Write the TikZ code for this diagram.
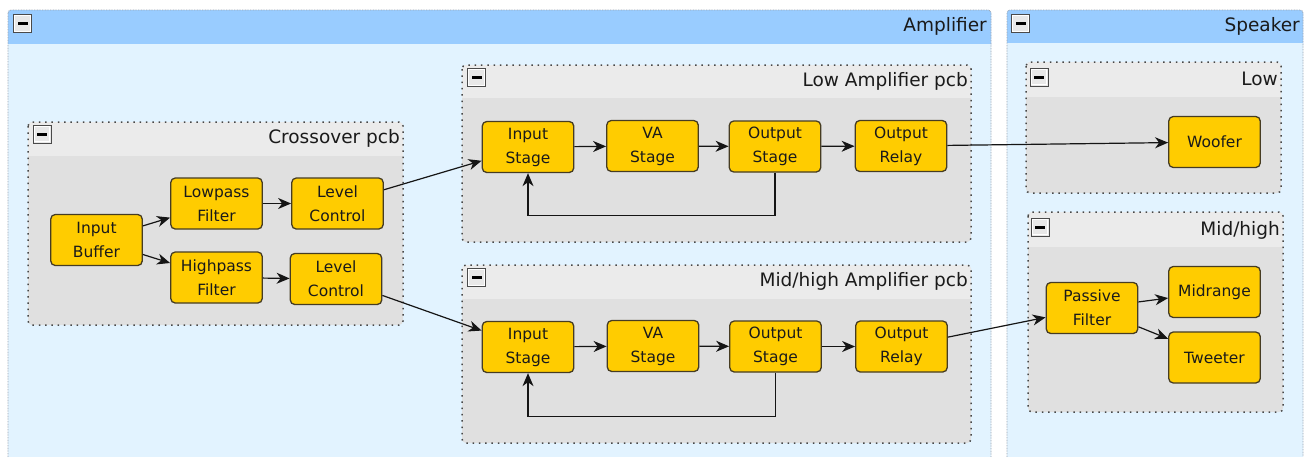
\documentclass[tikz,border=0pt]{standalone}
\usepackage{fontspec}
\setmainfont{DejaVu Sans}
\usetikzlibrary{arrows.meta}
\definecolor{outerHead}{HTML}{99CCFF}
\definecolor{outerBody}{HTML}{E2F3FF}
\definecolor{outerLine}{HTML}{9AA6B4}
\definecolor{grpHead}{HTML}{EBEBEB}
\definecolor{grpBody}{HTML}{E0E0E0}
\definecolor{grpLine}{HTML}{484848}
\definecolor{nodeFill}{HTML}{FFCC00}
\definecolor{nodeLine}{HTML}{463C22}
\definecolor{edgeCol}{HTML}{151515}
\definecolor{txtCol}{HTML}{1A1A1A}
\definecolor{btnFill}{HTML}{E8E8E8}
\definecolor{btnLine}{HTML}{4A4A4A}
\newcommand{\outerbox}[5]{% x1 y1 x2 y2 headerbottom
  \fill[outerBody,rounded corners=3pt] (#1,#2) rectangle (#3,#4);
  \fill[outerHead,rounded corners=3pt] (#1,#2) rectangle (#3,#5+4);
  \fill[outerBody] (#1,#5) rectangle (#3,#5+5);
  \draw[outerbord,rounded corners=3pt] (#1,#2) rectangle (#3,#4);
}
\newcommand{\pcbgroup}[5]{% x1 y1 x2 y2 headerbottom
  \fill[grpBody,rounded corners=4pt] (#1,#2) rectangle (#3,#4);
  \fill[grpHead,rounded corners=4pt] (#1,#2) rectangle (#3,#5+5);
  \fill[grpBody] (#1,#5) rectangle (#3,#5+6);
  \draw[grpbord,rounded corners=4pt] (#1,#2) rectangle (#3,#4);
}
\begin{document}
\begin{tikzpicture}[x=1pt,y=-1pt,
  outerbord/.style={draw=outerLine,line width=0.8pt,dash pattern=on 0.8pt off 0.8pt},
  grpbord/.style={draw=grpLine,line width=1.5pt,dash pattern=on 1.5pt off 4.8pt},
  block/.style={rectangle,rounded corners=4.5pt,fill=nodeFill,draw=nodeLine,line width=1.3pt,
    minimum width=91.5pt,minimum height=51pt,inner sep=0pt,align=center,text=txtCol,
    font=\fontsize{15.5}{24}\selectfont},
  titletxt/.style={anchor=base east,inner sep=0pt,text=txtCol,font=\fontsize{18.5}{22}\selectfont},
  btn/.style={rectangle,draw=btnLine,fill=btnFill,line width=1pt,minimum size=18pt,inner sep=0pt,
    path picture={\fill[black] ([xshift=-5pt,yshift=-1.5pt]path picture bounding box.center) rectangle ++(10pt,3pt);
      \draw[white,line width=0.8pt] ([xshift=1.2pt,yshift=1.2pt]path picture bounding box.south west) rectangle ([xshift=-1.2pt,yshift=-1.2pt]path picture bounding box.north east);}},
  edge/.style={draw=edgeCol,line width=1.2pt,-{Stealth[length=13pt,width=11pt,inset=4pt]}}
]
\useasboundingbox (0,0) rectangle (1307,456);
\clip (0,0) rectangle (1307,456);
\fill[white] (0,0) rectangle (1307,456);

% outer containers
\outerbox{8}{10}{991}{480}{44}
\outerbox{1007}{10}{1303}{480}{43}
\node[btn] (bAmp) at (22.5,23.5) {};
\node[titletxt] (tAmp) at (987,31) {Amplifier};
\node[btn] (bSpk) at (1020.5,23.5) {};
\node[titletxt] (tSpk) at (1300,31) {Speaker};

% groups
\pcbgroup{28}{122}{403}{325}{156}
\node[btn] (bCross) at (42,134) {};
\node[titletxt] (tCross) at (400,143) {Crossover pcb};

\pcbgroup{462}{65}{971}{242}{98}
\node[btn] (bLowA) at (476.5,77.5) {};
\node[titletxt] (tLowA) at (968,86) {Low Amplifier pcb};

\pcbgroup{462}{265}{971}{443}{299}
\node[btn] (bMidA) at (476.5,277.5) {};
\node[titletxt] (tMidA) at (968,286) {Mid/high Amplifier pcb};

\pcbgroup{1026}{62}{1281}{193}{97}
\node[btn] (bLowS) at (1039,77) {};
\node[titletxt] (tLowS) at (1278,85) {Low};

\pcbgroup{1028}{212}{1283}{412}{247}
\node[btn] (bMidS) at (1040,227) {};
\node[titletxt] (tMidS) at (1280,235) {Mid/high};

% crossover nodes
\node[block] (ib) at (96.5,240) {Input\\Buffer};
\node[block] (lp) at (216.5,203.5) {Lowpass\\Filter};
\node[block] (lc1) at (337.5,203.5) {Level\\Control};
\node[block] (hp) at (216.5,277.5) {Highpass\\Filter};
\node[block] (lc2) at (336,279) {Level\\Control};

% low amplifier nodes
\node[block] (is1) at (528,147) {Input\\Stage};
\node[block] (va1) at (652.5,146) {VA\\Stage};
\node[block] (os1) at (775,146.5) {Output\\Stage};
\node[block] (or1) at (901,146) {Output\\Relay};

% mid/high amplifier nodes
\node[block] (is2) at (528,347) {Input\\Stage};
\node[block] (va2) at (653,346) {VA\\Stage};
\node[block] (os2) at (775.5,346.5) {Output\\Stage};
\node[block] (or2) at (901.5,346.5) {Output\\Relay};

% speaker nodes
\node[block] (wf) at (1214.5,142) {Woofer};
\node[block] (pf) at (1092,308) {Passive\\Filter};
\node[block] (mr) at (1214.5,292) {Midrange};
\node[block] (tw) at (1214.5,357.5) {Tweeter};

% connectors
\draw[edge] (ib) -- (lp);
\draw[edge] (ib) -- (hp);
\draw[edge] (lp) -- (lc1);
\draw[edge] (hp) -- (lc2);
\draw[edge] (lc1) -- (is1);
\draw[edge] (lc2) -- (is2);

\draw[edge] (is1) -- (va1);
\draw[edge] (va1) -- (os1);
\draw[edge] (os1) -- (or1);
\draw[edge] (os1.south) -- ++(0,43) -| (is1.south);

\draw[edge] (is2) -- (va2);
\draw[edge] (va2) -- (os2);
\draw[edge] (os2) -- (or2);
\draw[edge] (os2.south) -- ++(0,44) -| (is2.south);

\draw[edge] (or1) -- (wf);
\draw[edge] (or2) -- (pf);
\draw[edge] (pf) -- (mr);
\draw[edge] (pf) -- (tw);
\end{tikzpicture}
\end{document}
